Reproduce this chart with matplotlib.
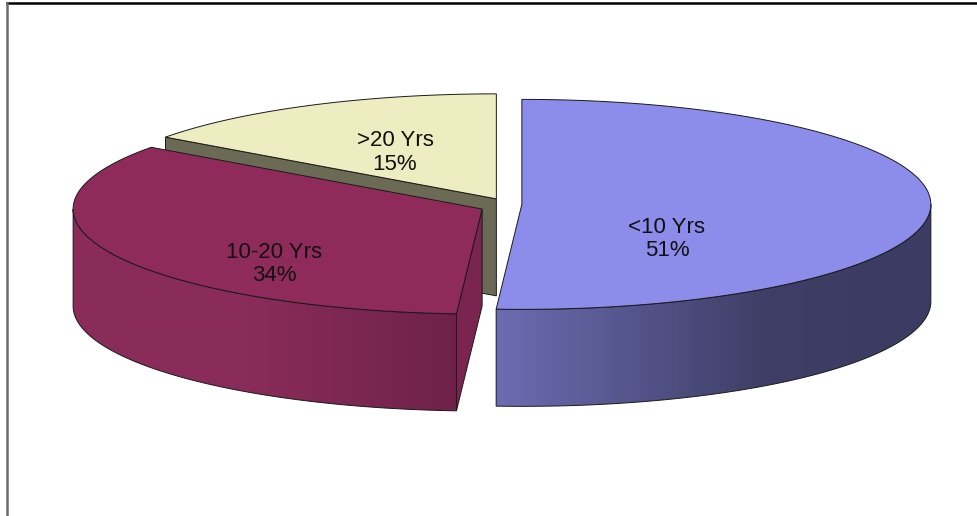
import numpy as np
import matplotlib
matplotlib.use("Agg")
import matplotlib.pyplot as plt
from matplotlib.patches import Polygon
from matplotlib.colors import LinearSegmentedColormap

# ---- data ----
labels = ["<10 Yrs", "10-20 Yrs", ">20 Yrs"]
values = [51, 34, 15]

# ---- style ----
top_colors = ["#8C8CEA", "#8E2B5B", "#EDEDC1"]
side_stops = [
    [(0.0, "#6C6CB2"), (0.62, "#3E3E66"), (1.0, "#3C3C62")],
    [(0.0, "#8A2C5A"), (0.45, "#8A2C5A"), (1.0, "#6E2249")],
    [(0.0, "#C8C8A0"), (1.0, "#C8C8A0")],
]
wall_colors = ["#4A4A7A", "#7A2450", "#6B6B55"]
explode = [0.051, 0.051, 0.025]
explode_tilt = 2.2
label_r = [0.355, 0.562, 0.546]
label_dy = [33.5, 30, 4.7]
edge = "#1a1a1a"

W, H = 977, 516
fig = plt.figure(figsize=(9.77, 5.16), dpi=100)
ax = fig.add_axes([0, 0, 1, 1])
ax.set_xlim(0, W)
ax.set_ylim(H, 0)
ax.axis("off")

cx, cy, a, b, h = 501, 204, 409, 105, 97
start = 90.0
total = float(sum(values))


def rim(t, ox, oy, dz=0.0):
    r = np.radians(t)
    return ox + a * np.cos(r), oy - b * np.sin(r) + dz


def arc(t0, t1, ox, oy, dz=0.0, n=120):
    ts = np.linspace(t0, t1, n)
    xs, ys = rim(ts, ox, oy, dz)
    return list(zip(xs, ys))


# angular ranges (clockwise from 12 o'clock)
ranges = []
cum = 0.0
for v in values:
    hi = start - cum * 360 / total
    lo = hi - v * 360 / total
    ranges.append((lo, hi))
    cum += v

# draw order: back slice first
order = [2, 1, 0]
for i in order:
    lo, hi = ranges[i]
    mid = 0.5 * (lo + hi)
    ox = cx + explode[i] * a * np.cos(np.radians(mid))
    oy = cy - explode[i] * b * explode_tilt * np.sin(np.radians(mid))

    # radial walls
    for t, sgn in ((hi, 1), (lo, -1)):
        facing = np.sin(np.radians(t + sgn * 90))
        if facing < -1e-6:
            px, py = rim(t, ox, oy)
            poly = [(ox, oy), (px, py), (px, py + h), (ox, oy + h)]
            ax.add_patch(Polygon(poly, closed=True, facecolor=wall_colors[i],
                                 edgecolor=edge, lw=0.7, zorder=2))

    # curved outer side (front half only)
    for k in range(-2, 2):
        f0, f1 = -180 + 360 * k, 0 + 360 * k
        s0, s1 = max(lo, f0), min(hi, f1)
        if s1 - s0 > 1e-6:
            pts = arc(s0, s1, ox, oy) + arc(s1, s0, ox, oy, h)
            xs = [p[0] for p in pts]
            ys = [p[1] for p in pts]
            poly = Polygon(pts, closed=True, facecolor="none", edgecolor="none")
            ax.add_patch(poly)
            cmap = LinearSegmentedColormap.from_list("g%d" % i, side_stops[i])
            grad = np.linspace(0, 1, 256).reshape(1, -1)
            im = ax.imshow(grad, cmap=cmap, aspect="auto", interpolation="bilinear",
                           extent=[min(xs), max(xs), max(ys), min(ys)], zorder=2)
            im.set_clip_path(poly)
            ax.add_patch(Polygon(pts, closed=True, facecolor="none",
                                 edgecolor=edge, lw=0.7, zorder=3))

    # top face
    pts = [(ox, oy)] + arc(lo, hi, ox, oy)
    ax.add_patch(Polygon(pts, closed=True, facecolor=top_colors[i],
                         edgecolor=edge, lw=0.7, zorder=4))

    # label
    lx = ox + label_r[i] * a * np.cos(np.radians(mid))
    ly = oy - label_r[i] * b * np.sin(np.radians(mid)) + label_dy[i]
    ax.text(lx, ly, f"{labels[i]}\n{values[i]}%", ha="center", va="center",
            fontsize=16, family=["Liberation Sans", "DejaVu Sans"],
            color="#111111", linespacing=1.15, zorder=5)

ax.set_xlim(0, W)
ax.set_ylim(H, 0)

# frame
ax.plot([7, W], [3, 3], color="black", lw=1.8, clip_on=False, zorder=6)
ax.plot([7, 7], [3, H], color="#6a6a6a", lw=1.8, clip_on=False, zorder=6)

fig.savefig("out.png", dpi=100)
